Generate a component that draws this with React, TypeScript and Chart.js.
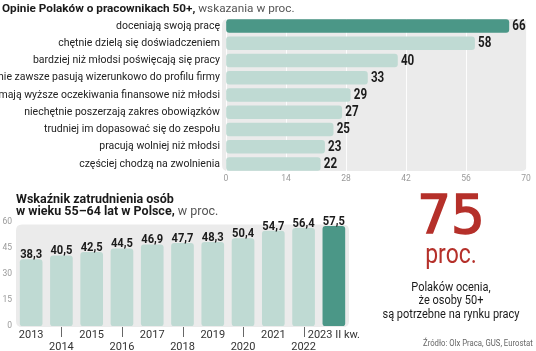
import React, { useEffect, useRef } from "react";
import { Chart, registerables } from "chart.js";

Chart.register(...registerables);

const opinionLabels = [
  "doceniają swoją pracę",
  "chętnie dzielą się doświadczeniem",
  "bardziej niż młodsi poświęcają się pracy",
  "nie zawsze pasują wizerunkowo do profilu firmy",
  "mają wyższe oczekiwania finansowe niż młodsi",
  "niechętnie poszerzają zakres obowiązków",
  "trudniej im dopasować się do zespołu",
  "pracują wolniej niż młodsi",
  "częściej chodzą na zwolnienia",
];
const opinionValues = [66, 58, 40, 33, 29, 27, 25, 23, 22];
const opinionTicks = [0, 14, 28, 42, 56, 70];

const years = [
  "2013", "2014", "2015", "2016", "2017", "2018",
  "2019", "2020", "2021", "2022", "2023 II kw.",
];
const employmentValues = [38.3, 40.5, 42.5, 44.5, 46.9, 47.7, 48.3, 50.4, 54.7, 56.4, 57.5];
const employmentTicks = [0, 15, 30, 45, 60];

const FONT = "Roboto, sans-serif";
const DARK = "#4b9787";
const LIGHT = "#bfdad3";
const BG = "#ebebeb";
const RED = "#b5302a";

const plPct = (v: number) => (Number.isInteger(v) ? String(v) : v.toFixed(1).replace(".", ","));

function roundRect(ctx: CanvasRenderingContext2D, x: number, y: number, w: number, h: number, r: number) {
  ctx.beginPath();
  ctx.moveTo(x + r, y);
  ctx.lineTo(x + w - r, y);
  ctx.quadraticCurveTo(x + w, y, x + w, y + r);
  ctx.lineTo(x + w, y + h - r);
  ctx.quadraticCurveTo(x + w, y + h, x + w - r, y + h);
  ctx.lineTo(x + r, y + h);
  ctx.quadraticCurveTo(x, y + h, x, y + h - r);
  ctx.lineTo(x, y + r);
  ctx.quadraticCurveTo(x, y, x + r, y);
  ctx.closePath();
}

function scaledText(ctx: CanvasRenderingContext2D, text: string, x: number, y: number, sx: number) {
  ctx.save();
  ctx.translate(x, y);
  ctx.scale(sx, 1);
  ctx.fillText(text, 0, 0);
  ctx.restore();
}

function OpinionChart() {
  const ref = useRef<HTMLCanvasElement>(null);
  useEffect(() => {
    const bgPlugin = {
      id: "bg1",
      beforeDraw(chart: any) {
        const { ctx, chartArea: a } = chart;
        ctx.save();
        ctx.fillStyle = BG;
        roundRect(ctx, a.left - 4, a.top + 1.6, a.right - a.left + 5, a.bottom - a.top - 3.2, 6);
        ctx.fill();
        ctx.restore();
      },
    };
    const labelPlugin = {
      id: "vals1",
      afterDatasetsDraw(chart: any) {
        const { ctx } = chart;
        const meta = chart.getDatasetMeta(0);
        ctx.save();
        ctx.font = `bold 14px ${FONT}`;
        ctx.fillStyle = "#1b1b1b";
        ctx.textAlign = "left";
        ctx.textBaseline = "middle";
        meta.data.forEach((bar: any, i: number) => {
          scaledText(ctx, plPct(opinionValues[i]), bar.x + 3.5, bar.y + 0.5, 0.83);
        });
        ctx.restore();
      },
    };
    const chart = new Chart(ref.current!, {
      type: "bar",
      data: {
        labels: opinionLabels,
        datasets: [
          {
            data: opinionValues,
            backgroundColor: opinionValues.map((_, i) => (i === 0 ? DARK : LIGHT)),
            barThickness: 13,
            borderRadius: 3,
            borderSkipped: false,
          },
        ],
      },
      options: {
        indexAxis: "y",
        responsive: false,
        animation: false,
        layout: { padding: { top: 17.4, right: 10, left: 0, bottom: 0 } },
        plugins: { legend: { display: false }, tooltip: { enabled: false } },
        scales: {
          x: {
            min: 0,
            max: 70,
            afterBuildTicks: (s: any) => {
              s.ticks = opinionTicks.map((v) => ({ value: v }));
            },
            afterFit: (s: any) => {
              s.height = 13.4;
            },
            grid: { color: "rgba(255,255,255,0.9)", drawTicks: false },
            border: { display: false },
            ticks: { font: { size: 8.5, family: FONT }, color: "#9a9a9a", padding: 1, autoSkip: false, maxRotation: 0 },
          },
          y: {
            afterFit: (s: any) => {
              s.width = 226;
            },
            grid: { display: false, drawTicks: false },
            border: { display: false },
            ticks: { font: { size: 10.5, family: FONT }, color: "#222", padding: 6, autoSkip: false },
          },
        },
      },
      plugins: [bgPlugin, labelPlugin],
    } as any);
    return () => chart.destroy();
  }, []);
  return (
    <canvas
      ref={ref}
      width={536}
      height={186}
      style={{ position: "absolute", left: 0, top: 0, width: 536, height: 186 }}
    />
  );
}

function EmploymentChart() {
  const ref = useRef<HTMLCanvasElement>(null);
  useEffect(() => {
    const bgPlugin = {
      id: "bg2",
      beforeDraw(chart: any) {
        const { ctx, chartArea: a } = chart;
        ctx.save();
        ctx.fillStyle = BG;
        roundRect(ctx, a.left, a.top + 2.5, a.right - a.left, a.bottom - a.top - 1.5, 6);
        ctx.fill();
        ctx.restore();
      },
    };
    const labelPlugin = {
      id: "vals2",
      afterDatasetsDraw(chart: any) {
        const { ctx } = chart;
        const meta = chart.getDatasetMeta(0);
        const xs = chart.scales.x;
        ctx.save();
        ctx.font = `bold 13px ${FONT}`;
        ctx.fillStyle = "#1b1b1b";
        ctx.textAlign = "center";
        ctx.textBaseline = "alphabetic";
        meta.data.forEach((bar: any, i: number) => {
          scaledText(ctx, plPct(employmentValues[i]), bar.x, bar.y - 1.5, 0.86);
        });
        ctx.font = `11px ${FONT}`;
        ctx.fillStyle = "#333";
        ctx.strokeStyle = "#666";
        ctx.lineWidth = 1;
        const base = chart.chartArea.bottom;
        years.forEach((y, i) => {
          const x = xs.getPixelForValue(i);
          if (i % 2 === 0) {
            ctx.fillText(y, x, base + 12.3);
          } else {
            ctx.beginPath();
            ctx.moveTo(Math.round(x) + 0.5, base + 1);
            ctx.lineTo(Math.round(x) + 0.5, base + 11);
            ctx.stroke();
            ctx.fillText(y, x, base + 24);
          }
        });
        ctx.restore();
      },
    };
    const chart = new Chart(ref.current!, {
      type: "bar",
      data: {
        labels: years,
        datasets: [
          {
            data: employmentValues,
            backgroundColor: employmentValues.map((_, i) =>
              i === employmentValues.length - 1 ? DARK : LIGHT
            ),
            barThickness: 22,
            borderRadius: 3,
            borderSkipped: false,
          },
        ],
      },
      options: {
        responsive: false,
        animation: false,
        layout: { padding: { top: 12, right: 11, left: 0, bottom: 0 } },
        plugins: { legend: { display: false }, tooltip: { enabled: false } },
        scales: {
          x: {
            afterFit: (s: any) => {
              s.height = 25;
            },
            grid: { display: false, drawTicks: false },
            border: { display: false },
            ticks: { display: false },
          },
          y: {
            min: 0,
            max: 60,
            afterBuildTicks: (s: any) => {
              s.ticks = employmentTicks.map((v) => ({ value: v }));
            },
            afterFit: (s: any) => {
              s.width = 16;
            },
            grid: { display: false, drawTicks: false },
            border: { display: false },
            ticks: { font: { size: 8.5, family: FONT }, color: "#999", padding: 4, autoSkip: false },
          },
        },
      },
      plugins: [bgPlugin, labelPlugin],
    } as any);
    return () => chart.destroy();
  }, []);
  return (
    <canvas
      ref={ref}
      width={360}
      height={141}
      style={{ position: "absolute", left: 0, top: 210, width: 360, height: 141 }}
    />
  );
}

export default function App() {
  return (
    <div
      style={{
        position: "absolute",
        left: 0,
        top: 0,
        width: 536,
        height: 351,
        overflow: "hidden",
        background: "#fff",
        fontFamily: FONT,
        color: "#1a1a1a",
      }}
    >
      <OpinionChart />
      <EmploymentChart />
      <div style={{ position: "absolute", left: 2, top: 1, fontSize: 11.75, lineHeight: "14px", whiteSpace: "nowrap" }}>
        <b>Opinie Polaków o pracownikach 50+,</b>
        <span style={{ color: "#555" }}> wskazania w proc.</span>
      </div>
      <div style={{ position: "absolute", left: 16, top: 192.8, fontSize: 12.5, lineHeight: "12.3px", whiteSpace: "nowrap" }}>
        <b>Wskaźnik zatrudnienia osób</b>
        <br />
        <b>w wieku 55–64 lat w Polsce,</b>
        <span style={{ color: "#555" }}> w proc.</span>
      </div>
      <div
        style={{
          position: "absolute",
          left: 371,
          width: 160,
          top: 183.7,
          textAlign: "center",
          color: RED,
          fontFamily: '"DejaVu Sans", sans-serif',
          fontSize: 53,
          lineHeight: "62px",
          WebkitTextStroke: `1.6px ${RED}`,
        }}
      >
        75
      </div>
      <div
        style={{
          position: "absolute",
          left: 371,
          width: 160,
          top: 238.5,
          textAlign: "center",
          color: RED,
          fontSize: 27,
          lineHeight: "30px",
          transform: "scaleX(0.85)",
          transformOrigin: "80px 0",
        }}
      >
        proc.
      </div>
      <div
        style={{
          position: "absolute",
          left: 351,
          width: 200,
          top: 279.6,
          textAlign: "center",
          fontSize: 12.5,
          lineHeight: "13.7px",
          color: "#1a1a1a",
          transform: "scaleX(0.88)",
          transformOrigin: "100px 0",
        }}
      >
        Polaków ocenia,
        <br />
        że osoby 50+
        <br />
        są potrzebne na rynku pracy
      </div>
      <div
        style={{
          position: "absolute",
          left: 422.7,
          top: 337,
          fontSize: 9,
          lineHeight: "12px",
          color: "#666",
          whiteSpace: "nowrap",
          transform: "scaleX(0.86)",
          transformOrigin: "0 0",
        }}
      >
        Źródło: Olx Praca, GUS, Eurostat
      </div>
    </div>
  );
}
